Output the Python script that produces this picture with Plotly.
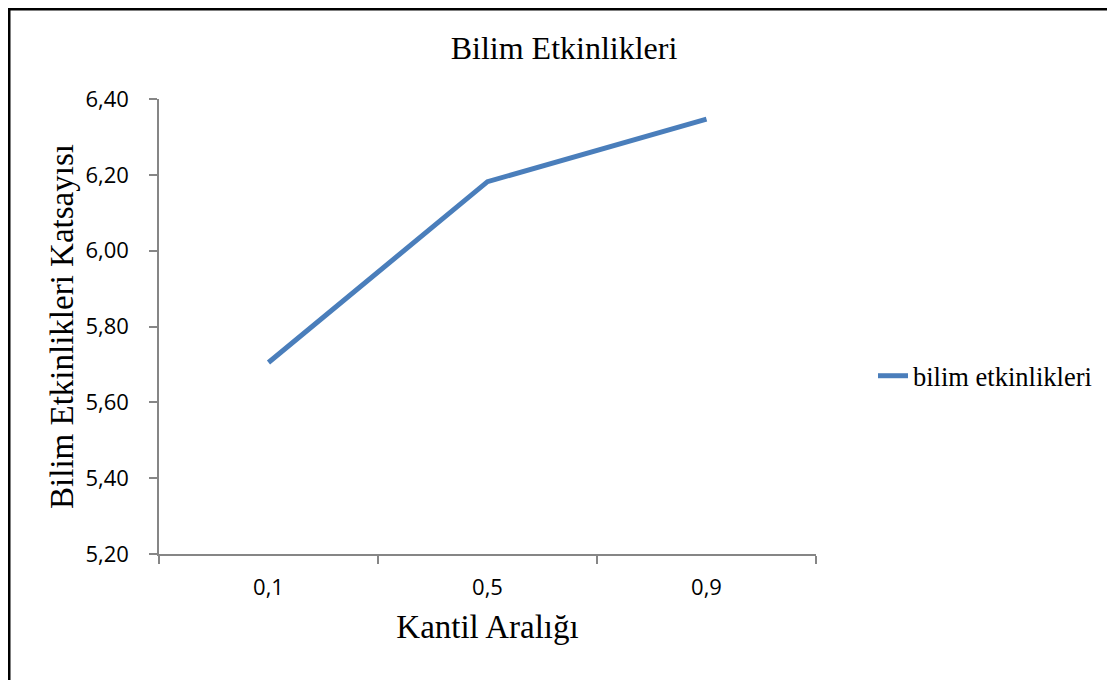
import plotly.graph_objects as go

categories = ["0,1", "0,5", "0,9"]
values = [5.705, 6.182, 6.347]
series_name = "bilim etkinlikleri"
y_ticks = [5.2, 5.4, 5.6, 5.8, 6.0, 6.2, 6.4]

# the page body adds an 8px offset; work in screen pixels and convert
OFF = 8
W, H = 1115 - OFF, 680 - OFF
L, R, T, B = 159 - OFF, 816 - OFF, 99 - OFF, 554 - OFF

fig = go.Figure()
fig.add_trace(go.Scatter(
    x=categories, y=values, mode="lines", name=series_name,
    line=dict(color="#4a7ebb", width=5),
    showlegend=True,
))

def px_x(p):
    return (p - OFF - L) / (R - L)

def px_y(p):
    return (B - (p - OFF)) / (B - T)

axis_color = "#868686"
fig.update_layout(
    width=W, height=H,
    margin=dict(l=L, r=W - R, t=T, b=H - B, autoexpand=False),
    paper_bgcolor="white", plot_bgcolor="white",
    separators=",.",
    title=dict(text="Bilim Etkinlikleri", x=(564 - OFF) / W, xref="container", xanchor="center",
               y=1 - (48 - OFF) / H, yref="container", yanchor="middle",
               font=dict(family="Liberation Serif", size=32, color="black")),
    xaxis=dict(
        type="category", range=[-0.5, 2.5], tickson="boundaries",
        showline=True, linecolor=axis_color, linewidth=1.5,
        ticks="outside", ticklen=8, tickcolor=axis_color, tickwidth=1.5,
        showgrid=False, zeroline=False,
        tickfont=dict(family="Open Sans", size=22, color="black"),
        ticklabelstandoff=13,
        title=dict(text="Kantil Aralığı", standoff=15,
                   font=dict(family="Liberation Serif", size=33, color="black")),
    ),
    yaxis=dict(
        range=[5.2, 6.4], tickvals=y_ticks, tickformat=".2f",
        showline=True, linecolor=axis_color, linewidth=1.5,
        ticks="outside", ticklen=8, tickcolor=axis_color, tickwidth=1.5,
        showgrid=False, zeroline=False,
        tickfont=dict(family="Open Sans", size=22, color="black"),
        ticklabelstandoff=16,
        title=dict(text="Bilim Etkinlikleri Katsayısı", standoff=2,
                   font=dict(family="Liberation Serif", size=33, color="black")),
    ),
    legend=dict(x=px_x(873), y=px_y(376), xanchor="left", yanchor="middle",
                font=dict(family="Liberation Serif", size=26.5, color="black"),
                bgcolor="rgba(0,0,0,0)", itemwidth=30),
    showlegend=True,
)

# outer frame (top and left edges)
fig.add_shape(type="line", xref="paper", yref="paper",
              x0=px_x(8), y0=px_y(9), x1=px_x(1125), y1=px_y(9),
              line=dict(color="black", width=3))
fig.add_shape(type="line", xref="paper", yref="paper",
              x0=px_x(9), y0=px_y(8), x1=px_x(9), y1=px_y(690),
              line=dict(color="black", width=3))

fig.write_html("out.html")
